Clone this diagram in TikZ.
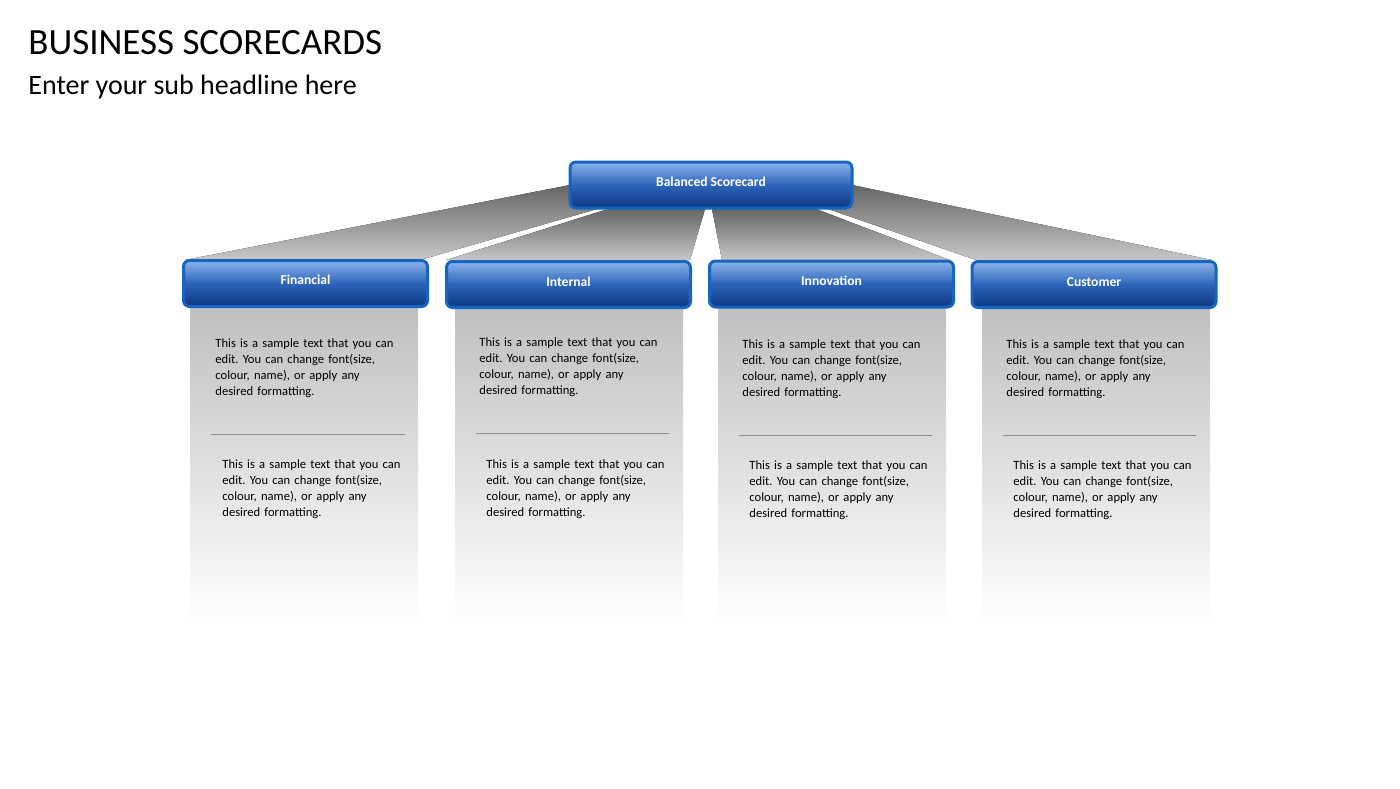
\documentclass[tikz,border=0pt]{standalone}
\usepackage{fontspec}
\setmainfont{Carlito}
\frenchspacing
\begin{document}
\begin{tikzpicture}[x=0.5pt,y=-0.5pt,
 bluebox/.style={rounded corners=3pt,draw={rgb,255:red,22;green,101;blue,192},line width=1.5pt,top color={rgb,255:red,140;green,180;blue,235},bottom color={rgb,255:red,15;green,55;blue,130},middle color={rgb,255:red,45;green,100;blue,185}},
 lbl/.style={text=white,font=\bfseries\fontsize{6.8}{8}\selectfont},
 body/.style={anchor=north west,align=left,font=\fontsize{6.3}{8}\selectfont,text width=100pt,inner sep=0pt},
 conn/.style={top color=black!60,bottom color=black!22,draw=none},
 col/.style={top color=black!25,bottom color=white,draw=none}]
\useasboundingbox (0,0) rectangle (1400,788);
% connectors
\fill[conn] (570,185) -- (597,209) -- (420,260) -- (185,260) -- cycle;
\fill[conn] (608,209) -- (705,209) -- (690,260) -- (446,260) -- cycle;
\fill[conn] (712,209) -- (816,209) -- (950,260) -- (722,260) -- cycle;
\fill[conn] (828,209) -- (852,185) -- (1212,260) -- (976,260) -- cycle;
% columns
\foreach \x/\n in {190/c1,455/c2,718/c3,982/c4}{
 \fill[col] (\x,307) rectangle (\x+228,622);
}
% boxes
\node[bluebox,minimum width=141pt,minimum height=23pt,inner sep=0pt] (top) at (711,185) {};
\node[lbl] (ltop) at (711,182) {Balanced Scorecard};
\node[bluebox,minimum width=122pt,minimum height=23pt,inner sep=0pt] (fin) at (305.5,283.5) {};
\node[lbl] (lfin) at (305.5,280) {Financial};
\node[bluebox,minimum width=122pt,minimum height=23pt,inner sep=0pt] (int) at (568.5,284.5) {};
\node[lbl] (lint) at (568.5,282) {Internal};
\node[bluebox,minimum width=122pt,minimum height=23pt,inner sep=0pt] (inn) at (831.5,284) {};
\node[lbl] (linn) at (831.5,281) {Innovation};
\node[bluebox,minimum width=122pt,minimum height=23pt,inner sep=0pt] (cus) at (1094,284.5) {};
\node[lbl] (lcus) at (1094,282) {Customer};
% texts
\def\txt{This is a sample text that you can\\edit. You can change font(size,\\colour, name), or apply any\\desired formatting.}
\foreach \x/\y/\xx/\yy/\la/\lb/\ly/\n in {215/338/222/459/211/405/434/a,479/337/486/459/476/669/433/b,742/339/749/460/739/932/435/c,1006/339/1013/460/1003/1196/435/d}{
 \node[body] (t1\n) at (\x,\y) {\txt};
 \node[body] (t2\n) at (\xx,\yy) {\txt};
 \draw[black!45,line width=0.4pt] (\la,\ly) -- (\lb,\ly);
}
\node[anchor=west,font=\fontsize{18.5}{20}\selectfont,inner sep=0pt] (title) at (28,43) {BUSINESS SCORECARDS};
\node[anchor=west,font=\fontsize{14}{16}\selectfont,inner sep=0pt] (sub) at (28,87) {Enter your sub headline here};
\end{tikzpicture}
\end{document}
